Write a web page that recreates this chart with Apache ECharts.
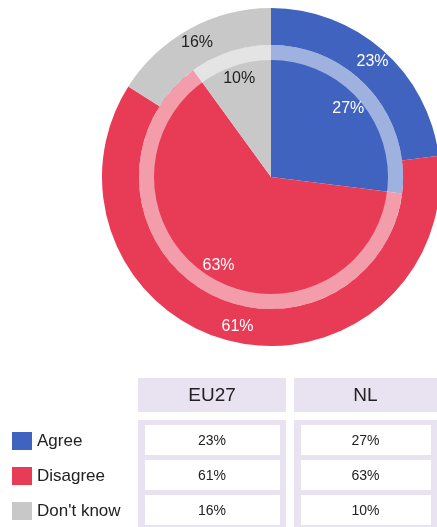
<!DOCTYPE html>
<html>
<head>
<meta charset="utf-8">
<script src="https://cdn.jsdelivr.net/npm/echarts@6/dist/echarts.min.js"></script>
<style>
html,body{margin:0;padding:0;background:#fff;}
#chart{width:437px;height:527px;}
</style>
</head>
<body>
<div id="chart"></div>
<script>
// data
var answers = ["Agree", "Disagree", "Don't know"];
var eu27 = [23, 61, 16];
var nl = [27, 63, 10];
var columns = ["EU27", "NL"];
var sliceColors = ["#3f63be", "#e83b55", "#c8c8c8"];
var labelColors = ["#fff", "#fff", "#222"];

var FONT = "'Liberation Sans', Arial, sans-serif";
var chart = echarts.init(document.getElementById('chart'));

function pieData(vals, labelOnly) {
    return vals.map(function (v, i) {
        return {
            name: answers[i],
            value: v,
            itemStyle: { color: labelOnly ? 'transparent' : sliceColors[i] },
            label: { color: labelColors[i] }
        };
    });
}

// table built from the arrays
var graphics = [];
var colX = [138, 294], colW = [148, 143];
var tableVals = [eu27, nl];
for (var c = 0; c < columns.length; c++) {
    graphics.push({
        type: 'rect', shape: { x: colX[c], y: 378, width: colW[c], height: 34 },
        style: { fill: '#e9e2f1' }
    });
    graphics.push({
        type: 'text', x: colX[c] + colW[c] / 2, y: 396,
        style: { text: columns[c], fill: '#222', font: '19px ' + FONT, align: 'center', verticalAlign: 'middle' }
    });
    graphics.push({
        type: 'rect', shape: { x: colX[c], y: 420, width: colW[c], height: 110 },
        style: { fill: '#e9e2f1' }
    });
    for (var r = 0; r < answers.length; r++) {
        graphics.push({
            type: 'rect', shape: { x: colX[c] + 7, y: 425 + 35 * r, width: colW[c] - 13, height: 30 },
            style: { fill: '#fff' }
        });
        graphics.push({
            type: 'text', x: colX[c] + colW[c] / 2, y: 441 + 35 * r,
            style: { text: tableVals[c][r] + '%', fill: '#222', font: '14px ' + FONT, align: 'center', verticalAlign: 'middle' }
        });
    }
}

var option = {
    animation: false,
    legend: {
        data: answers,
        orient: 'vertical',
        left: 12,
        top: 432,
        height: 95,
        padding: 0,
        itemWidth: 20,
        itemHeight: 18,
        itemGap: 17,
        icon: 'rect',
        textStyle: { fontFamily: FONT, fontSize: 17, color: '#222' },
        selectedMode: false
    },
    graphic: graphics,
    series: [
        {
            name: 'EU27', type: 'pie', center: [271, 177], radius: [132, 169],
            startAngle: 90, silent: true,
            label: { show: true, position: 'inside', formatter: '{c}%', fontFamily: FONT, fontSize: 16 },
            labelLine: { show: false },
            data: pieData(eu27)
        },
        {
            name: 'NL', type: 'pie', center: [271, 177], radius: [0, 132],
            startAngle: 90, silent: true,
            label: { show: false },
            labelLine: { show: false },
            data: pieData(nl)
        },
        {
            // light ring between the two circles
            name: 'ring', type: 'pie', center: [271, 177], radius: [117, 132],
            silent: true, label: { show: false }, labelLine: { show: false },
            itemStyle: { color: 'rgba(255,255,255,0.5)' },
            data: [{ name: 'ring', value: 1 }]
        },
        {
            // NL labels
            name: 'NL labels', type: 'pie', center: [271, 177], radius: [68, 132],
            startAngle: 90, silent: true,
            label: { show: true, position: 'inside', formatter: '{c}%', fontFamily: FONT, fontSize: 16 },
            labelLine: { show: false },
            data: pieData(nl, true)
        }
    ]
};
chart.setOption(option);
</script>
</body>
</html>
